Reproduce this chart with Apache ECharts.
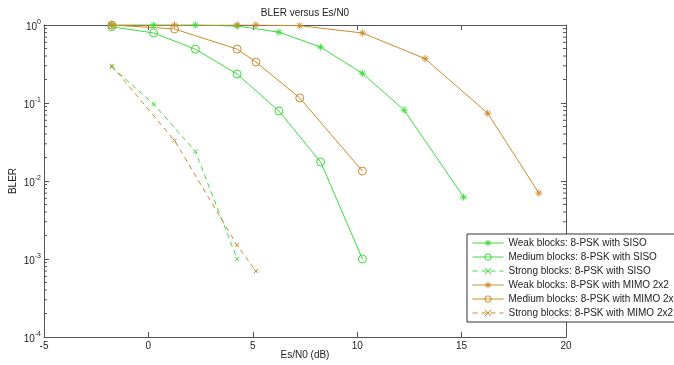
<!DOCTYPE html>
<html>
<head>
<meta charset="utf-8">
<script src="https://cdn.jsdelivr.net/npm/echarts@6/dist/echarts.min.js"></script>
<style>
  html, body { margin: 0; padding: 0; background: #fff; }
  #chart { width: 674px; height: 365px; }
</style>
</head>
<body>
<div id="chart"></div>
<script>
const Green = '#3cdc3c';
const Orange = '#cd8a2a';
const FontName = 'Liberation Sans';
const XMin = -5;
const XMax = 20;

// x = Es/N0 (dB), y = BLER
const sisoWeakX = [-1.75, 0.25, 2.25, 4.25, 6.25, 8.25, 10.25, 12.25, 15.1];
const sisoWeakY = [1.0, 1.0, 1.0, 0.97, 0.81, 0.52, 0.24, 0.081, 0.0062];
const sisoMediumX = [-1.75, 0.25, 2.25, 4.25, 6.25, 8.25, 10.25];
const sisoMediumY = [0.95, 0.79, 0.49, 0.235, 0.079, 0.0175, 0.001];
const sisoStrongX = [-1.75, 0.25, 2.25, 4.25];
const sisoStrongY = [0.29, 0.097, 0.024, 0.001];
const mimoWeakX = [-1.75, 1.25, 4.25, 5.15, 7.25, 10.25, 13.25, 16.25, 18.7];
const mimoWeakY = [1.0, 1.0, 1.0, 1.0, 0.98, 0.79, 0.37, 0.074, 0.007];
const mimoMediumX = [-1.75, 1.25, 4.25, 5.15, 7.25, 10.25];
const mimoMediumY = [1.0, 0.89, 0.49, 0.335, 0.116, 0.0134];
const mimoStrongX = [-1.75, 1.25, 4.25, 5.15];
const mimoStrongY = [0.3, 0.033, 0.0015, 0.0007];

const seriesNames = [
  'Weak blocks: 8-PSK with SISO',
  'Medium blocks: 8-PSK with SISO',
  'Strong blocks: 8-PSK with SISO',
  'Weak blocks: 8-PSK with MIMO 2x2',
  'Medium blocks: 8-PSK with MIMO 2x2',
  'Strong blocks: 8-PSK with MIMO 2x2'
];

// log axis minor ticks (2..9 in every decade)
const decades = [0.0001, 0.001, 0.01, 0.1];
const minorSteps = [2, 3, 4, 5, 6, 7, 8, 9];

const StarPath = 'path://M5,0L5,10M0,5L10,5M1.5,1.5L8.5,8.5M8.5,1.5L1.5,8.5';
const CirclePath = 'path://M10,5A5,5,0,1,1,0,5A5,5,0,1,1,10,5Z';
const CrossPath = 'path://M0,0L10,10M10,0L0,10';

function pairs(xs, ys) {
  var out = [];
  for (var i = 0; i < xs.length; i++) {
    out.push([xs[i], ys[i]]);
  }
  return out;
}

function makeSeries(name, xs, ys, color, kind, dashed) {
  var s = {
    name: name,
    type: 'line',
    data: pairs(xs, ys),
    symbolKeepAspect: true,
    lineStyle: { color: color, width: 1, type: dashed ? [5, 4] : 'solid' },
    itemStyle: { color: 'none', borderColor: color, borderWidth: 1 },
    emphasis: { disabled: true },
    animation: false
  };
  if (kind === 'star') {
    s.symbol = StarPath;
    s.symbolSize = 7;
  } else if (kind === 'circle') {
    s.symbol = CirclePath;
    s.symbolSize = 8;
  } else {
    s.symbol = CrossPath;
    s.symbolSize = 4;
  }
  return s;
}

function minorTickData() {
  var out = [];
  for (var i = 0; i < decades.length; i++) {
    for (var j = 0; j < minorSteps.length; j++) {
      out.push([XMin, decades[i] * minorSteps[j]]);
    }
  }
  return out;
}

function renderMinorTick(params, api) {
  var v = api.value(1);
  var l = api.coord([XMin, v]);
  var r = api.coord([XMax, v]);
  var st = { stroke: '#555', lineWidth: 1 };
  return {
    type: 'group',
    children: [
      { type: 'line', shape: { x1: l[0], y1: l[1], x2: l[0] + 3, y2: l[1] }, style: st },
      { type: 'line', shape: { x1: r[0], y1: r[1], x2: r[0] - 3, y2: r[1] }, style: st }
    ]
  };
}

function expLabel(v) {
  var e = Math.round(Math.log10(v));
  return '{b|10}{s|' + e + '}';
}

const chart = echarts.init(document.getElementById('chart'), null, { renderer: 'canvas' });

const axisLineStyle = { color: '#555', width: 1 };
const textColor = '#222';
const labelRich = {
  b: { fontSize: 10, fontFamily: FontName, color: textColor, padding: [4, 0, 0, 0] },
  s: { fontSize: 7, fontFamily: FontName, color: textColor, padding: [0, 0, 6, 0] }
};

chart.setOption({
  backgroundColor: '#fff',
  animation: false,
  textStyle: { fontFamily: FontName },
  grid: { left: 44, right: 108, top: 25, bottom: 28, containLabel: false, outerBoundsMode: 'none' },
  legend: {
    orient: 'vertical',
    left: 467,
    top: 234,
    itemWidth: 31,
    itemHeight: 8,
    itemGap: 2,
    padding: [3, 40, 3, 5],
    backgroundColor: '#fff',
    borderColor: '#333',
    borderWidth: 1,
    borderRadius: 0,
    z: 10,
    selectedMode: false,
    data: seriesNames,
    lineStyle: { width: 1 },
    itemStyle: { color: 'none', borderWidth: 1 },
    textStyle: { fontSize: 10, color: textColor, fontFamily: FontName, lineHeight: 12 }
  },
  xAxis: [{
    type: 'value',
    min: XMin,
    max: XMax,
    interval: 5,
    name: 'Es/N0 (dB)',
    nameLocation: 'middle',
    nameGap: 13,
    nameMoveOverlap: false,
    nameTextStyle: { fontSize: 10, color: textColor, fontFamily: FontName },
    axisLine: { show: true, onZero: false, lineStyle: axisLineStyle },
    axisTick: { show: true, inside: true, length: 5, lineStyle: axisLineStyle },
    axisLabel: { fontSize: 10, color: textColor, margin: 4, fontFamily: FontName },
    splitLine: { show: false }
  }, {
    type: 'value',
    position: 'top',
    min: XMin,
    max: XMax,
    interval: 5,
    name: 'BLER versus Es/N0',
    nameLocation: 'middle',
    nameGap: 7,
    nameMoveOverlap: false,
    nameTextStyle: { fontSize: 10, color: textColor, fontFamily: FontName },
    axisLine: { show: true, onZero: false, lineStyle: axisLineStyle },
    axisTick: { show: true, inside: true, length: 5, lineStyle: axisLineStyle },
    axisLabel: { show: false },
    splitLine: { show: false }
  }],
  yAxis: [{
    type: 'log',
    logBase: 10,
    min: 0.0001,
    max: 1,
    name: 'BLER',
    nameLocation: 'middle',
    nameGap: 26,
    nameMoveOverlap: false,
    nameRotate: 90,
    nameTextStyle: { fontSize: 10, color: textColor, fontFamily: FontName },
    axisLine: { show: true, onZero: false, lineStyle: axisLineStyle },
    axisTick: { show: true, inside: true, length: 5, lineStyle: axisLineStyle },
    axisLabel: { formatter: expLabel, rich: labelRich, margin: 3 },
    splitLine: { show: false }
  }, {
    type: 'log',
    logBase: 10,
    position: 'right',
    min: 0.0001,
    max: 1,
    axisLine: { show: true, onZero: false, lineStyle: axisLineStyle },
    axisTick: { show: true, inside: true, length: 5, lineStyle: axisLineStyle },
    axisLabel: { show: false },
    splitLine: { show: false }
  }],
  series: [
    {
      name: 'minor ticks',
      type: 'custom',
      silent: true,
      xAxisIndex: 0,
      yAxisIndex: 0,
      data: minorTickData(),
      renderItem: renderMinorTick,
      clip: false,
      z: 1
    },
    makeSeries(seriesNames[0], sisoWeakX, sisoWeakY, Green, 'star', false),
    makeSeries(seriesNames[1], sisoMediumX, sisoMediumY, Green, 'circle', false),
    makeSeries(seriesNames[2], sisoStrongX, sisoStrongY, Green, 'cross', true),
    makeSeries(seriesNames[3], mimoWeakX, mimoWeakY, Orange, 'star', false),
    makeSeries(seriesNames[4], mimoMediumX, mimoMediumY, Orange, 'circle', false),
    makeSeries(seriesNames[5], mimoStrongX, mimoStrongY, Orange, 'cross', true)
  ]
});
</script>
</body>
</html>
